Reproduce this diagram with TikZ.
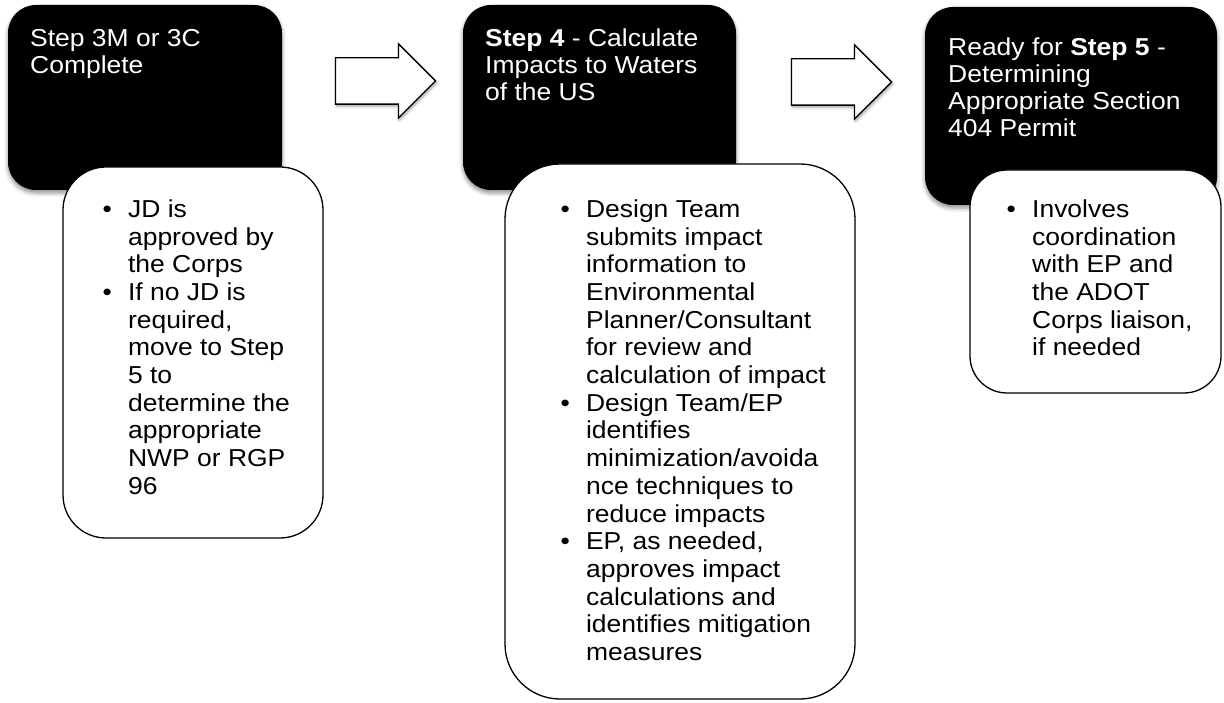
\documentclass[tikz,border=0pt]{standalone}
\usepackage{fontspec}
\setmainfont[FakeStretch=1.08]{Liberation Sans}
\usetikzlibrary{shapes.arrows,shadows.blur}
\newcommand{\itm}{\makebox[25.5pt][l]{\textbullet}}
\newcommand{\ind}{\hspace*{25.5pt}}

\begin{document}
\begin{tikzpicture}[x=1pt,y=-1pt,
    stepbox/.style={fill=black,rounded corners=28pt,inner sep=0pt,
      blur shadow={shadow xshift=0pt,shadow yshift=-3pt,shadow blur radius=4pt,shadow opacity=45}},
    infobox/.style={draw=black,line width=1.3pt,fill=white,inner sep=0pt},
    steptext/.style={anchor=north west,inner sep=0pt,align=left,text=white,font=\fontsize{24.5}{27}\selectfont},
    infotext/.style={anchor=north west,inner sep=0pt,align=left,font=\fontsize{24.5}{27.7}\selectfont},
    blockarrow/.style={single arrow,draw=black,line width=1.3pt,fill=white,minimum height=100pt,
      inner xsep=0pt,inner ysep=22.5pt,single arrow head extend=14pt,
      blur shadow={shadow xshift=1pt,shadow yshift=-2pt,shadow blur radius=3pt,shadow opacity=40}}]
      \useasboundingbox (0,0) rectangle (1224,703);
      \node[stepbox,minimum width=274pt,minimum height=185pt] (s1) at (145,97.5) {};
      \node[stepbox,minimum width=273pt,minimum height=185pt] (s2) at (599.5,97.5) {};
      \node[stepbox,minimum width=292pt,minimum height=198pt] (s3) at (1071,106) {};
      \node[steptext] (s1t) at (30,29) {Step 3M or 3C\\Complete};
      \node[steptext] (s2t) at (485,29) {\textbf{Step 4} - Calculate\\Impacts to Waters\\of the US};
      \node[steptext] (s3t) at (948,37.2) {Ready for \textbf{Step 5} -\\Determining\\Appropriate Section\\404 Permit};
      \node[blockarrow] (a1) at (374,81) {};
      \node[blockarrow] (a2) at (830,82) {};
      \node[infobox,rounded corners=43pt,minimum width=260pt,minimum height=371pt] (i1) at (193,352.5) {};
      \node[infobox,rounded corners=55pt,minimum width=350pt,minimum height=535pt] (i2) at (680,431.5) {};
      \node[infobox,rounded corners=37pt,minimum width=251pt,minimum height=223pt] (i3) at (1095.5,281.5) {};
      \node[infotext] (i1t) at (102.4,199.4) {\itm JD is\\\ind approved by\\\ind the Corps\\
        \itm If no JD is\\\ind required,\\\ind move to Step\\\ind 5 to\\\ind determine the\\
        \ind appropriate\\\ind NWP or RGP\\\ind 96};
      \node[infotext] (i2t) at (560.4,199.4) {\itm Design Team\\\ind submits impact\\\ind information to\\
        \ind Environmental\\\ind Planner/Consultant\\\ind for review and\\\ind calculation of impact\\
        \itm Design Team/EP\\\ind identifies\\\ind minimization/avoida\\\ind nce techniques to\\
        \ind reduce impacts\\\itm EP, as needed,\\\ind approves impact\\\ind calculations and\\
        \ind identifies mitigation\\\ind measures};
      \node[infotext] (i3t) at (1006.5,199.4) {\itm Involves\\\ind coordination\\\ind with EP and\\
        \ind the ADOT\\\ind Corps liaison,\\\ind if needed};
    \end{tikzpicture}
\end{document}
